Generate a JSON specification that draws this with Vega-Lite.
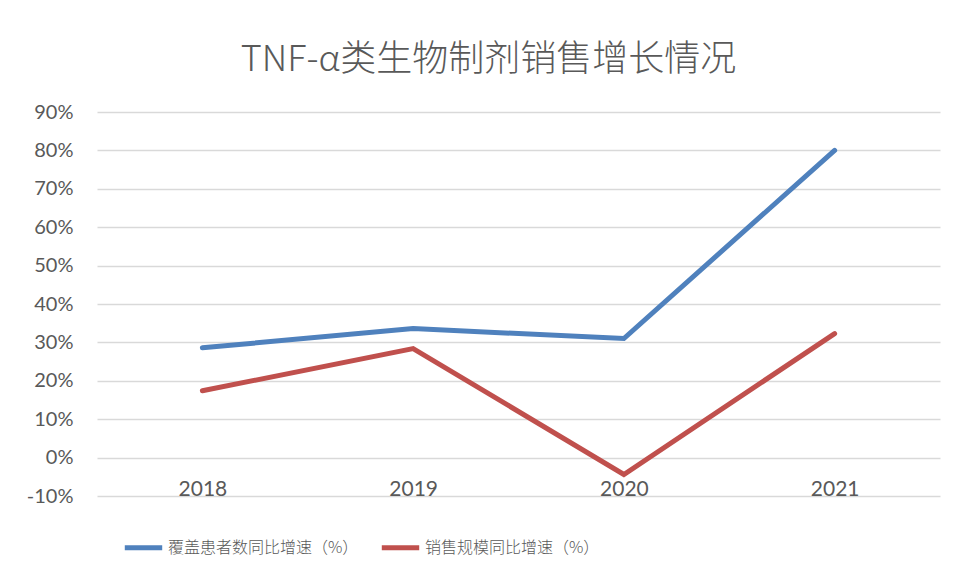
{
  "$schema": "https://vega.github.io/schema/vega-lite/v6.json",
  "autosize": {"type": "none"},
  "padding": {"left": 97, "top": 112, "right": 18, "bottom": 85},
  "width": 843,
  "height": 384,
  "background": "white",
  "title": {
    "text": "TNF-α类生物制剂销售增长情况",
    "font": "Noto Sans CJK SC",
    "fontSize": 36,
    "fontWeight": 300,
    "color": "#595959",
    "anchor": "middle",
    "dx": -30,
    "offset": 23
  },
  "data": {
    "values": [
      {"year": "2018", "series": "覆盖患者数同比增速（%）", "value": 0.286},
      {"year": "2019", "series": "覆盖患者数同比增速（%）", "value": 0.336},
      {"year": "2020", "series": "覆盖患者数同比增速（%）", "value": 0.31},
      {"year": "2021", "series": "覆盖患者数同比增速（%）", "value": 0.80},
      {"year": "2018", "series": "销售规模同比增速（%）", "value": 0.174},
      {"year": "2019", "series": "销售规模同比增速（%）", "value": 0.284},
      {"year": "2020", "series": "销售规模同比增速（%）", "value": -0.044},
      {"year": "2021", "series": "销售规模同比增速（%）", "value": 0.323}
    ]
  },
  "mark": {"type": "line", "strokeWidth": 5, "strokeCap": "round", "strokeJoin": "miter"},
  "encoding": {
    "x": {
      "field": "year",
      "type": "ordinal",
      "scale": {"type": "point", "padding": 0.5},
      "axis": {
        "title": null,
        "labelAngle": 0,
        "ticks": false,
        "domain": false,
        "grid": false,
        "offset": -38.4,
        "labelPadding": 21,
        "labelFont": "Lato",
        "labelFontSize": 21,
        "labelColor": "#595959"
      }
    },
    "y": {
      "field": "value",
      "type": "quantitative",
      "scale": {"domain": [-0.1, 0.9], "nice": false},
      "axis": {
        "title": null,
        "labelExpr": "replace(format(datum.value, '.0%'), '−', '-')",
        "values": [-0.1, 0, 0.1, 0.2, 0.3, 0.4, 0.5, 0.6, 0.7, 0.8, 0.9],
        "ticks": false,
        "domain": false,
        "labelPadding": 24,
        "labelFont": "Lato",
        "labelFontSize": 20,
        "labelColor": "#595959",
        "gridColor": "#d9d9d9",
        "gridWidth": 1.5
      }
    },
    "color": {
      "field": "series",
      "type": "nominal",
      "scale": {
        "domain": ["覆盖患者数同比增速（%）", "销售规模同比增速（%）"],
        "range": ["#4f81bd", "#c0504d"]
      },
      "legend": {
        "title": null,
        "orient": "none",
        "direction": "horizontal",
        "legendX": 25,
        "legendY": 414,
        "symbolType": "stroke",
        "symbolStrokeWidth": 5,
        "symbolSize": 1400,
        "labelFont": "Noto Sans CJK SC",
        "labelFontSize": 16,
        "labelFontWeight": 300,
        "labelLimit": 0,
        "labelColor": "#595959",
        "labelOffset": 3,
        "columnPadding": 12
      }
    }
  },
  "config": {"view": {"stroke": null}}
}
